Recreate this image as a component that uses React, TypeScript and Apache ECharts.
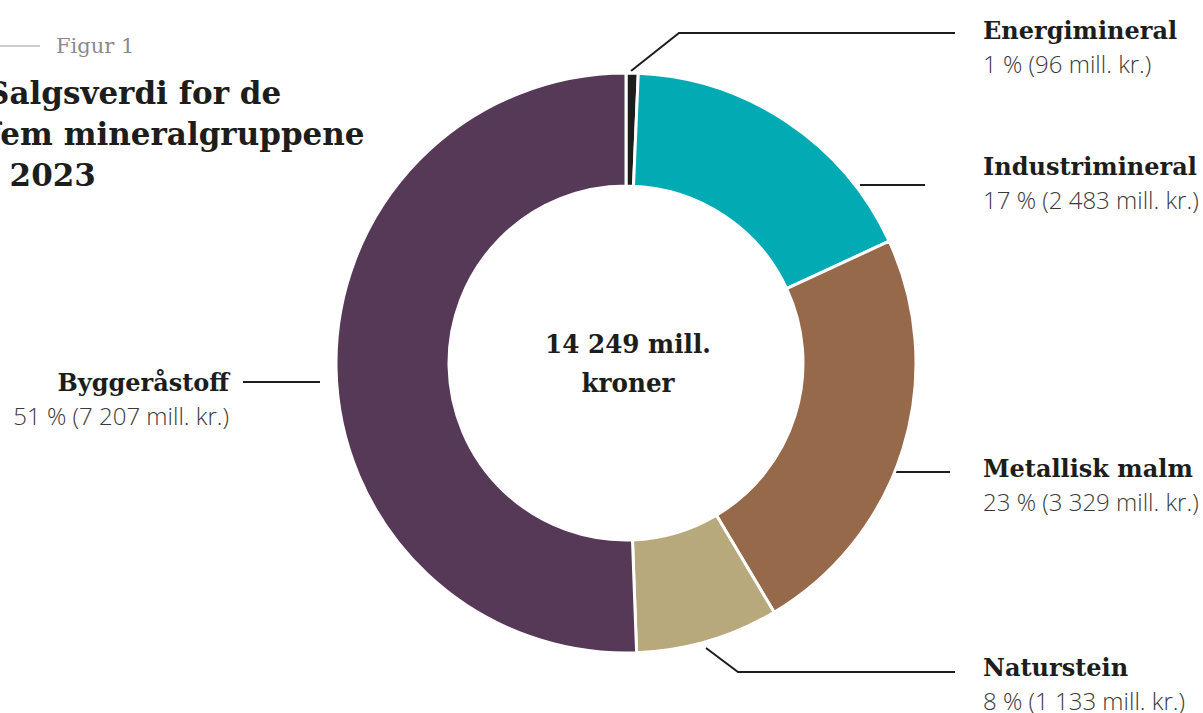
import React, { useEffect, useRef } from "react";
import * as echarts from "echarts";

// ---- data ----
const categories = ["Energimineral", "Industrimineral", "Metallisk malm", "Naturstein", "Byggeråstoff"];
const values = [96, 2483, 3329, 1133, 7207];
const figureLabel = "Figur 1";
const titleLines = ["Salgsverdi for de", "fem mineralgruppene", "i 2023"];
const centerLines = ["14 249 mill.", "kroner"];

// ---- style / layout ----
const colors = ["#1d1d1b", "#02aab4", "#96694b", "#b8a97c", "#563957"];
const labelX = [983, 983, 983, 983, 229];
const labelY = [13, 149, 451, 650, 365];
const labelAlign = ["left", "left", "left", "left", "right"];
const leaderPoints = [
  [[631, 71], [679, 33], [955, 33]],
  [[860, 185], [925, 185], [925, 185]],
  [[852, 472], [950, 472], [950, 472]],
  [[706, 648], [738, 672], [955, 672]],
  [[320, 382], [243, 382], [243, 382]],
];

const SERIF = "'DejaVu Serif', serif";
const SANS = "'Open Sans', sans-serif";

function fmt(v: number): string {
  return String(v).replace(/\B(?=(\d{3})+(?!\d))/g, " ");
}

export default function App() {
  const ref = useRef<HTMLDivElement>(null);
  useEffect(() => {
    document.body.style.margin = "0";
    if (!ref.current) return;
    const chart = echarts.init(ref.current, null, { renderer: "svg" });
    const sum = values.reduce((a, b) => a + b, 0);
    chart.setOption({
      animation: false,
      backgroundColor: "#ffffff",
      graphic: [
        {
          type: "line",
          shape: { x1: -10, y1: 46, x2: 40, y2: 46 },
          style: { stroke: "#9a9a9a", lineWidth: 1 },
        },
        {
          type: "text",
          x: 56,
          y: 46,
          style: {
            text: figureLabel,
            font: `400 21px ${SERIF}`,
            fill: "#8a8a8a",
            textVerticalAlign: "middle",
          },
        },
        {
          type: "text",
          x: -13,
          y: 72,
          style: {
            text: titleLines.join("\n"),
            font: `700 31px ${SERIF}`,
            lineHeight: 41,
            fill: "#1d1d1b",
          },
        },
        {
          type: "text",
          x: 628,
          y: 324,
          scaleX: 0.95,
          style: {
            text: centerLines.join("\n"),
            font: `700 26px ${SERIF}`,
            lineHeight: 39,
            fill: "#1d1d1b",
            textAlign: "center",
          },
        },
      ],
      series: [
        {
          type: "pie",
          center: [626, 363],
          radius: [177, 290],
          startAngle: 90,
          clockwise: true,
          avoidLabelOverlap: false,
          itemStyle: { borderColor: "#ffffff", borderWidth: 3 },
          emphasis: { disabled: true },
          data: categories.map((name, i) => ({
            name,
            value: values[i],
            itemStyle: { color: colors[i] },
          })),
          label: {
            show: true,
            position: "outside",
            color: "#3a3a3a",
            formatter: (p: any) =>
              `{n|${p.name}}\n{v|${Math.round((p.value / sum) * 100)} % (${fmt(p.value)} mill. kr.)}`,
            rich: {
              n: {
                fontFamily: SERIF,
                fontWeight: 700,
                fontSize: 24,
                lineHeight: 34,
                color: "#1d1d1b",
              },
              v: {
                fontFamily: SANS,
                fontWeight: 300,
                fontSize: 24,
                lineHeight: 32,
                color: "#3a3a3a",
              },
            },
          },
          labelLine: {
            show: true,
            lineStyle: { color: "#1d1d1b", width: 2 },
          },
          labelLayout: (params: any) => {
            const i = params.dataIndex;
            return {
              x: labelX[i],
              y: labelY[i],
              align: labelAlign[i],
              verticalAlign: "top",
              labelLinePoints: leaderPoints[i],
            };
          },
        },
      ],
    });
    return () => chart.dispose();
  }, []);
  return <div ref={ref} style={{ width: 1203, height: 713 }} />;
}
